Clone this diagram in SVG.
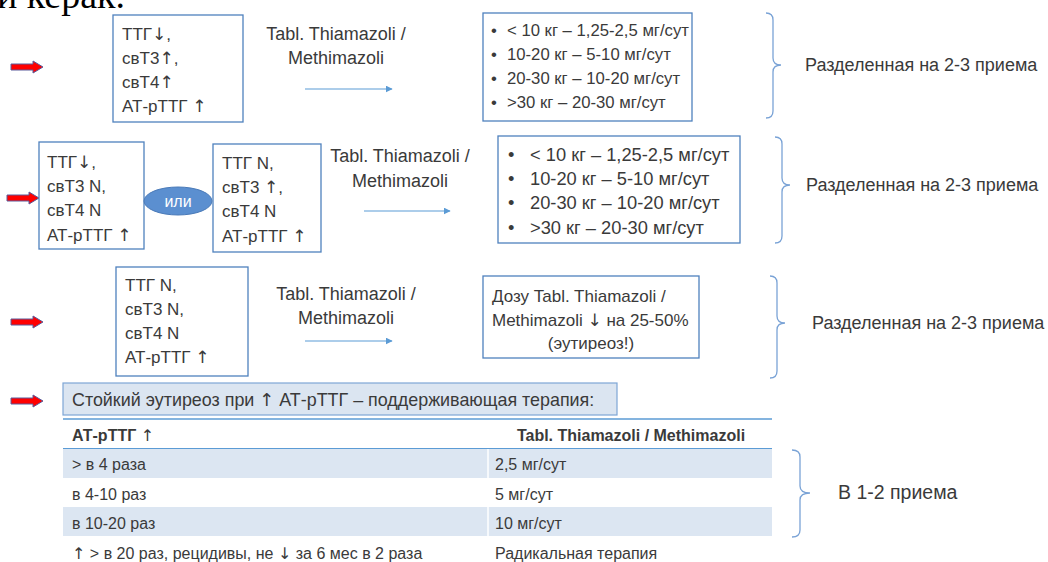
<svg xmlns="http://www.w3.org/2000/svg" width="1048" height="562" viewBox="0 0 1048 562">
<style>
.t{font-family:"Liberation Sans","DejaVu Sans",sans-serif;font-size:17px;fill:#3a3a3a}
.m{font-size:18px}
.bl{font-size:16.7px}
.bl2{font-size:18.3px}
.hd{font-size:17.9px}
.nt{font-size:19.5px}
.s{font-family:"Liberation Sans","DejaVu Sans",sans-serif;font-size:16px;fill:#3a3a3a}
.b{font-weight:bold;font-size:16px}
.ar{font-family:"DejaVu Sans",sans-serif;font-weight:normal}
.box{fill:#fff;stroke:#4f81bd;stroke-width:1.3}
.brace{fill:none;stroke:#7aa3d6;stroke-width:1.3}
.flow{stroke:#5b9bd5;stroke-width:1.2;fill:none}
.red{fill:#ff0000;stroke:#5a5a9a;stroke-width:1}
.shade{fill:#dce6f2}
</style>
<defs>
<marker id="ah" viewBox="0 0 10 10" refX="9" refY="5" markerWidth="7" markerHeight="7" markerUnits="userSpaceOnUse" orient="auto">
<path d="M0,0 L10,5 L0,10 z" fill="#5b9bd5"/>
</marker>
<path id="redarrow" d="M0,-3 L22,-3 L22,-6 L32,0 L22,6 L22,3 L0,3 z"/>
</defs>
<rect width="1048" height="562" fill="#fff"/>
<text x="-3" y="8" font-family="Liberation Serif,serif" font-size="38" fill="#000">и керак.</text>

<g id="red-arrows">
<use href="#redarrow" class="red" x="11" y="67"/>
<use href="#redarrow" class="red" x="7" y="198"/>
<use href="#redarrow" class="red" x="11" y="322"/>
<use href="#redarrow" class="red" x="11" y="401"/>
</g>

<g id="connectors">
<line class="flow" x1="305" y1="89" x2="392" y2="89" marker-end="url(#ah)"/>
<line class="flow" x1="364" y1="211" x2="450" y2="211" marker-end="url(#ah)"/>
<line class="flow" x1="305" y1="341" x2="392" y2="341" marker-end="url(#ah)"/>
</g>

<g id="row1-labs">
<rect class="box" x="113" y="15" width="130" height="107"/>
<text class="t" x="122" y="40">ТТГ<tspan class="ar">↓</tspan>,</text>
<text class="t" x="122" y="64">свТ3<tspan class="ar">↑</tspan>,</text>
<text class="t" x="122" y="88">свТ4<tspan class="ar">↑</tspan></text>
<text class="t" x="122" y="112">АТ-рТТГ <tspan class="ar">↑</tspan></text>
</g>
<g id="row1-drug">
<text class="t m" x="336" y="40" text-anchor="middle">Tabl. Thiamazoli /</text>
<text class="t m" x="336" y="64" text-anchor="middle">Methimazoli</text>
</g>
<g id="row1-dose">
<rect class="box" x="483" y="13" width="209" height="108"/>
<text class="t bl" x="491" y="36">•</text><text class="t bl" x="507" y="36">&lt; 10 кг – 1,25-2,5 мг/сут</text>
<text class="t bl" x="491" y="60">•</text><text class="t bl" x="507" y="60">10-20 кг – 5-10 мг/сут</text>
<text class="t bl" x="491" y="84">•</text><text class="t bl" x="507" y="84">20-30 кг – 10-20 мг/сут</text>
<text class="t bl" x="491" y="108">•</text><text class="t bl" x="507" y="108">&gt;30 кг – 20-30 мг/сут</text>
</g>
<g id="row1-note">
<path class="brace" d="M766,13 Q773,13 773,20 L773,58 Q773,65 781,65 Q773,65 773,72 L773,111 Q773,118 766,118"/>
<text class="t m" x="805" y="71">Разделенная на 2-3 приема</text>
</g>

<g id="row2-labsA">
<rect class="box" x="39" y="142" width="105" height="107"/>
<text class="t" x="47" y="168">ТТГ<tspan class="ar">↓</tspan>,</text>
<text class="t" x="47" y="192">свТ3 N,</text>
<text class="t" x="47" y="216">свТ4 N</text>
<text class="t" x="47" y="241">АТ-рТТГ <tspan class="ar">↑</tspan></text>
</g>
<g id="row2-or">
<ellipse cx="178" cy="201" rx="34" ry="14" fill="#5b8fd0" stroke="#4a7ab8" stroke-width="1"/>
<text x="178" y="207" text-anchor="middle" font-family="Liberation Sans,sans-serif" font-size="16" fill="#fff">или</text>
</g>
<g id="row2-labsB">
<rect class="box" x="213" y="144" width="108" height="108"/>
<text class="t" x="222" y="169">ТТГ N,</text>
<text class="t" x="222" y="193">свТ3 <tspan class="ar">↑</tspan>,</text>
<text class="t" x="222" y="217">свТ4 N</text>
<text class="t" x="222" y="242">АТ-рТТГ <tspan class="ar">↑</tspan></text>
</g>
<g id="row2-drug">
<text class="t m" x="400" y="162" text-anchor="middle">Tabl. Thiamazoli /</text>
<text class="t m" x="400" y="187" text-anchor="middle">Methimazoli</text>
</g>
<g id="row2-dose">
<rect class="box" x="498" y="136" width="242" height="107"/>
<text class="t bl2" x="508" y="161">•</text><text class="t bl2" x="530" y="161">&lt; 10 кг – 1,25-2,5 мг/сут</text>
<text class="t bl2" x="508" y="185">•</text><text class="t bl2" x="530" y="185">10-20 кг – 5-10 мг/сут</text>
<text class="t bl2" x="508" y="209">•</text><text class="t bl2" x="530" y="209">20-30 кг – 10-20 мг/сут</text>
<text class="t bl2" x="508" y="234">•</text><text class="t bl2" x="530" y="234">&gt;30 кг – 20-30 мг/сут</text>
</g>
<g id="row2-note">
<path class="brace" d="M775,137 Q782,137 782,144 L782,178 Q782,185 790,185 Q782,185 782,192 L782,236 Q782,243 775,243"/>
<text class="t m" x="806" y="191">Разделенная на 2-3 приема</text>
</g>

<g id="row3-labs">
<rect class="box" x="116" y="267" width="132" height="109"/>
<text class="t" x="125" y="291">ТТГ N,</text>
<text class="t" x="125" y="315">свТ3 N,</text>
<text class="t" x="125" y="339">свТ4 N</text>
<text class="t" x="125" y="363">АТ-рТТГ <tspan class="ar">↑</tspan></text>
</g>
<g id="row3-drug">
<text class="t m" x="346" y="300" text-anchor="middle">Tabl. Thiamazoli /</text>
<text class="t m" x="346" y="324" text-anchor="middle">Methimazoli</text>
</g>
<g id="row3-dose">
<rect class="box" x="483" y="276" width="216" height="82"/>
<text class="t" x="492" y="302">Дозу Tabl. Thiamazoli /</text>
<text class="t" x="492" y="326">Methimazoli <tspan class="ar">↓</tspan> на 25-50%</text>
<text class="t" x="591" y="349" text-anchor="middle">(эутиреоз!)</text>
</g>
<g id="row3-note">
<path class="brace" d="M770,276 Q777,276 777,283 L777,316 Q777,323 785,323 Q777,323 777,330 L777,371 Q777,378 770,378"/>
<text class="t m" x="812" y="329">Разделенная на 2-3 приема</text>
</g>

<g id="row4-header">
<rect x="63" y="383" width="554" height="32" fill="#dbe5f1" stroke="#7ea6d6" stroke-width="1.2"/>
<text class="t hd" x="72" y="406">Стойкий эутиреоз при <tspan class="ar">↑</tspan> АТ-рТТГ – поддерживающая терапия:</text>
</g>

<g id="table">
<rect class="shade" x="63" y="449" width="709" height="29"/>
<rect class="shade" x="63" y="507" width="709" height="29"/>
<line x1="488" y1="449" x2="488" y2="478" stroke="#fff" stroke-width="1.5"/>
<line x1="488" y1="507" x2="488" y2="536" stroke="#fff" stroke-width="1.5"/>
<line x1="63" y1="419" x2="772" y2="419" stroke="#5b9bd5" stroke-width="1.5"/>
<line x1="63" y1="448.5" x2="772" y2="448.5" stroke="#5b9bd5" stroke-width="1.2"/>
<text class="s b" x="72" y="441">АТ-рТТГ <tspan class="ar">↑</tspan></text>
<text class="s b" x="631" y="441" text-anchor="middle">Tabl. Thiamazoli / Methimazoli</text>
<text class="s" x="72" y="470">&gt; в 4 раза</text>
<text class="s" x="495" y="470">2,5 мг/сут</text>
<text class="s" x="72" y="500">в 4-10 раз</text>
<text class="s" x="495" y="500">5 мг/сут</text>
<text class="s" x="72" y="529">в 10-20 раз</text>
<text class="s" x="495" y="529">10 мг/сут</text>
<text class="s" x="72" y="559"><tspan class="ar">↑</tspan> &gt; в 20 раз, рецидивы, не <tspan class="ar">↓</tspan> за 6 мес в 2 раза</text>
<text class="s" x="495" y="559">Радикальная терапия</text>
</g>
<g id="table-note">
<path class="brace" d="M792,450 Q800,450 800,457 L800,486 Q800,493 810,493 Q800,493 800,500 L800,530 Q800,537 792,537"/>
<text class="t nt" x="838" y="499">В 1-2 приема</text>
</g>
</svg>
